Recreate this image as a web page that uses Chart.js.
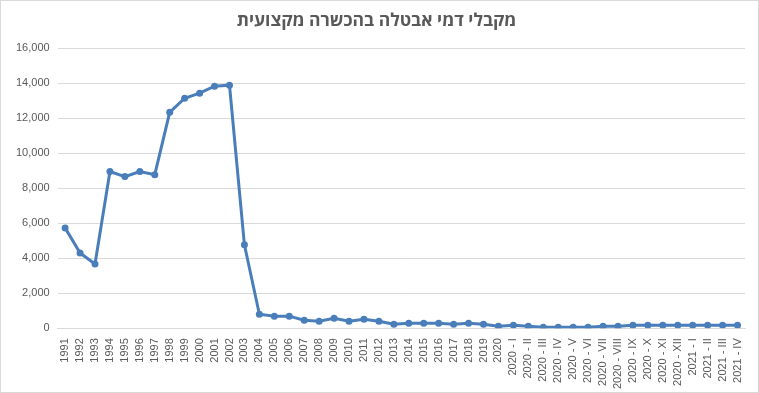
<!DOCTYPE html>
<html>
<head>
<meta charset="utf-8">
<script src="https://cdn.jsdelivr.net/npm/chart.js@4/dist/chart.umd.min.js"></script>
<style>
  html, body { margin: 0; padding: 0; background: #fff; }
  #wrap { position: relative; width: 759px; height: 393px; box-sizing: border-box; border: 1px solid #d9d9d9; }
</style>
</head>
<body>
<div id="wrap"><canvas id="chart"></canvas></div>
<script>
const years = ['1991', '1992', '1993', '1994', '1995', '1996', '1997', '1998', '1999', '2000',
  '2001', '2002', '2003', '2004', '2005', '2006', '2007', '2008', '2009', '2010',
  '2011', '2012', '2013', '2014', '2015', '2016', '2017', '2018', '2019', '2020'];
const months2020 = ['2020 - I', '2020 - II', '2020 - III', '2020 - IV', '2020 - V', '2020 - VI',
  '2020 - VII', '2020 - VIII', '2020 - IX', '2020 - X', '2020 - XI', '2020 - XII'];
const months2021 = ['2021 - I', '2021 - II', '2021 - III', '2021 - IV'];

const yearValues = [5730, 4300, 3670, 8950, 8660, 8950, 8770, 12330, 13130, 13420,
  13820, 13880, 4760, 800, 690, 690, 460, 400, 570, 400,
  520, 400, 230, 290, 290, 290, 230, 290, 230, 110];
const values2020 = [170, 110, 60, 60, 60, 60, 110, 110, 170, 170, 170, 170];
const values2021 = [170, 170, 170, 170];

const labels = [...years, ...months2020, ...months2021];
const values = [...yearValues, ...values2020, ...values2021];

const ctx = document.getElementById('chart').getContext('2d');
new Chart(ctx, {
  type: 'line',
  data: {
    labels: labels,
    datasets: [{
      label: 'מקבלי דמי אבטלה',
      data: values,
      borderColor: '#4a7ebb',
      backgroundColor: '#4a7ebb',
      borderWidth: 3,
      pointRadius: 3.5,
      pointBorderWidth: 0,
      pointHoverRadius: 4,
      tension: 0
    }]
  },
  options: {
    responsive: true,
    maintainAspectRatio: false,
    animation: false,
    layout: { padding: { left: 7, right: 13, top: 4, bottom: 1 } },
    plugins: {
      legend: { display: false },
      title: {
        display: true,
        text: 'מקבלי דמי אבטלה בהכשרה מקצועית',
        color: '#595959',
        font: { family: 'Open Sans, Liberation Sans, sans-serif', size: 17.5, weight: 'bold' },
        padding: { top: 6, bottom: 16 }
      },
      tooltip: { enabled: false }
    },
    scales: {
      x: {
        offset: true,
        grid: { display: false },
        border: { color: '#d9d9d9' },
        ticks: {
          autoSkip: false,
          minRotation: 90,
          maxRotation: 90,
          color: '#595959',
          font: { family: 'Liberation Sans, Arial, sans-serif', size: 11 },
          padding: 2
        }
      },
      y: {
        min: 0,
        max: 16000,
        border: { display: false },
        grid: { color: '#d9d9d9', drawTicks: false },
        ticks: {
          stepSize: 2000,
          color: '#595959',
          font: { family: 'Liberation Sans, Arial, sans-serif', size: 11 },
          padding: 8,
          callback: v => v.toLocaleString('en-US')
        }
      }
    }
  }
});
</script>
</body>
</html>
